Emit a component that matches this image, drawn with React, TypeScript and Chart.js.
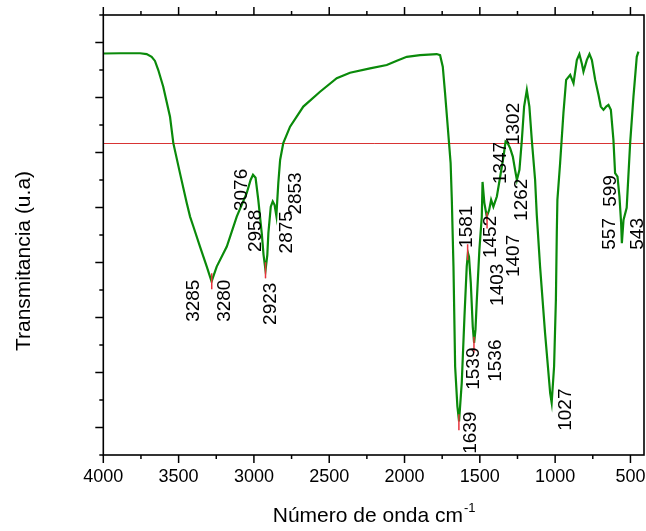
import { useEffect, useRef } from "react";
import { Chart, registerables } from "chart.js";

Chart.register(...registerables);

// Spectrum (wavenumber cm-1, transmittance in arbitrary units)
const wavenumbers = [
  4000, 3889, 3756, 3712, 3679, 3657, 3635, 3602, 3557, 3535, 3491, 3446, 3424, 3402, 3358, 3313, 3281,
  3247, 3180, 3114, 3048, 3022, 3006, 2989, 2971, 2948, 2936, 2923, 2911, 2904, 2888, 2875, 2863, 2851,
  2838, 2826, 2805, 2760, 2672, 2561, 2450, 2362, 2229, 2118, 2051, 1985, 1897, 1786, 1764, 1746, 1731,
  1714, 1694, 1686, 1675, 1664, 1649, 1638, 1620, 1602, 1587, 1579, 1572, 1560, 1547, 1538, 1529, 1520,
  1503, 1487, 1482, 1470, 1454, 1438, 1425, 1410, 1387, 1365, 1343, 1329, 1315, 1299, 1281, 1266, 1254,
  1237, 1221, 1206, 1188, 1171, 1155, 1133, 1122, 1100, 1067, 1033, 1023, 1007, 995, 989, 985, 967, 945,
  927, 900, 878, 856, 839, 823, 812, 790, 772, 756, 734, 712, 697, 679, 661, 646, 630, 613, 602, 586,
  573, 562, 557, 546, 525, 502, 480, 458, 447,
];
const transmittance = [
  14.6, 14.61, 14.61, 14.58, 14.48, 14.33, 14.0, 13.39, 12.3, 11.34, 10.25, 9.16, 8.67, 8.31, 7.58, 6.85, 6.31,
  6.85, 7.58, 8.67, 9.52, 10.0, 10.19, 10.08, 9.28, 8.07, 7.28, 6.72, 7.28, 8.07, 9.03, 9.22, 9.1, 8.7,
  9.89, 10.73, 11.34, 11.94, 12.67, 13.21, 13.7, 13.9, 14.06, 14.18, 14.34, 14.48, 14.54, 14.58, 14.54, 14.12, 13.17,
  12.0, 10.62, 9.28, 6.85, 3.22, 1.77, 1.22, 2.63, 5.04, 6.85, 7.35, 7.21, 6.26, 4.67, 4.08, 4.55, 5.64,
  7.46, 8.67, 9.93, 9.17, 8.67, 8.91, 9.28, 9.03, 9.4, 10.12, 10.85, 11.4, 11.34, 11.16, 10.85, 10.37, 10.0,
  10.37, 11.46, 12.67, 13.27, 12.67, 11.46, 10.0, 8.73, 6.85, 4.44, 2.25, 1.9, 3.22, 5.64, 8.07, 9.28, 10.61, 12.43,
  13.64, 13.82, 13.52, 14.36, 14.58, 14.24, 13.94, 14.36, 14.58, 14.36, 13.64, 13.09, 12.67, 12.55, 12.67, 12.73, 12.55, 11.46, 10.25, 10.12,
  9.4, 8.44, 7.7, 8.55, 8.99, 11.34, 13.03, 14.48, 14.67,
];

// Horizontal reference level
const baselineLevel = 11.327;

// Axis ticks
const xTickValues = [4000, 3500, 3000, 2500, 2000, 1500, 1000, 500];
const xMinorTickValues = [3750, 3250, 2750, 2250, 1750, 1250, 750];
const yTickValues = [0, 1, 2, 3, 4, 5, 6, 7, 8, 9, 10, 11, 12, 13, 14, 15, 16];

// Peak markers
const markerWn = [3280, 2923, 1639, 1581, 1539, 1452];
const markerT = [6.32, 6.72, 1.19, 7.37, 4.01, 8.53];

// Peak labels: text, and where the label sits (data units)
const peakText = ["3285", "3280", "3076", "2958", "2923", "2875", "2853", "1581", "1452", "1403", "1407", "1347", "1302", "1262", "1539", "1536", "1639", "1027", "599", "557", "543"];
const peakLabelWn = [3408, 3202, 3089, 2993, 2893, 2790, 2727, 1595, 1435, 1385, 1282, 1369, 1282, 1226, 1545, 1399, 1568, 934, 635, 641, 456];
const peakLabelT = [5.61, 5.61, 9.64, 8.15, 5.5, 8.1, 9.51, 8.3, 7.93, 6.19, 7.24, 10.62, 12.04, 9.28, 3.14, 3.43, 0.81, 1.65, 9.6, 8.04, 8.04];

const FONT = "'Liberation Sans', Arial, Helvetica, sans-serif";

const decorPlugin = {
  id: "decor",
  afterDatasetsDraw(chart: any) {
    const { ctx, chartArea: a } = chart;
    const xs = chart.scales.x;
    const ys = chart.scales.y;
    ctx.save();
    ctx.strokeStyle = "#000";
    ctx.lineWidth = 1.6;
    ctx.strokeRect(a.left, a.top, a.right - a.left, a.bottom - a.top);
    ctx.lineWidth = 1.5;
    const seg = (x1: number, y1: number, x2: number, y2: number) => {
      ctx.beginPath();
      ctx.moveTo(x1, y1);
      ctx.lineTo(x2, y2);
      ctx.stroke();
    };
    xTickValues.forEach((v) => {
      const px = xs.getPixelForValue(v);
      seg(px, a.bottom, px, a.bottom + 8);
      seg(px, a.top, px, a.top - 8);
    });
    xMinorTickValues.forEach((v) => {
      const px = xs.getPixelForValue(v);
      seg(px, a.bottom, px, a.bottom + 4);
      seg(px, a.top, px, a.top - 4);
    });
    yTickValues.forEach((v) => {
      const py = ys.getPixelForValue(v);
      const len = v % 2 === 1 ? 8 : 4;
      seg(a.left - len, py, a.left, py);
    });

    // peak labels
    ctx.fillStyle = "#000";
    ctx.font = `19px ${FONT}`;
    ctx.textAlign = "center";
    ctx.textBaseline = "middle";
    peakText.forEach((t, i) => {
      const px = xs.getPixelForValue(peakLabelWn[i]);
      const py = ys.getPixelForValue(peakLabelT[i]);
      ctx.save();
      ctx.translate(px, py);
      ctx.rotate(-Math.PI / 2);
      ctx.fillText(t, 0, 1);
      ctx.restore();
    });

    // y title
    ctx.save();
    ctx.font = `21px ${FONT}`;
    ctx.translate(24, (a.top + a.bottom) / 2 + 26);
    ctx.rotate(-Math.PI / 2);
    ctx.fillText("Transmitancia (u.a)", 0, 0);
    ctx.restore();

    // x title with superscript
    const main = "Número de onda cm";
    const sup = "-1";
    ctx.textBaseline = "alphabetic";
    ctx.textAlign = "left";
    ctx.font = `21px ${FONT}`;
    const wMain = ctx.measureText(main).width;
    ctx.font = `13px ${FONT}`;
    const wSup = ctx.measureText(sup).width;
    const cx = (a.left + a.right) / 2;
    const startX = cx - (wMain + wSup) / 2;
    ctx.font = `21px ${FONT}`;
    ctx.fillText(main, startX, 522);
    ctx.font = `13px ${FONT}`;
    ctx.fillText(sup, startX + wMain + 1, 512);
    ctx.restore();
  },
};

export default function App() {
  const ref = useRef<HTMLCanvasElement | null>(null);
  useEffect(() => {
    if (!ref.current) return;
    const spectrum = wavenumbers.map((w, i) => ({ x: w, y: transmittance[i] }));
    const markers = markerWn.map((w, i) => ({ x: w, y: markerT[i] }));
    const baseline = [
      { x: 4000, y: baselineLevel },
      { x: 400, y: baselineLevel },
    ];
    const chart = new Chart(ref.current, {
      type: "scatter",
      data: {
        datasets: [
          {
            label: "peaks",
            data: markers,
            showLine: false,
            pointStyle: "line",
            rotation: 90,
            radius: 8,
            borderColor: "#e8323c",
            borderWidth: 1.5,
          },
          {
            label: "spectrum",
            data: spectrum,
            showLine: true,
            borderColor: "#0a8a0a",
            borderWidth: 2.2,
            pointRadius: 0,
            tension: 0,
            fill: false,
          },
          {
            label: "baseline",
            data: baseline,
            showLine: true,
            borderColor: "#d83434",
            borderWidth: 1,
            pointRadius: 0,
          },
        ],
      } as any,
      options: {
        responsive: false,
        animation: false,
        devicePixelRatio: 1,
        layout: { autoPadding: false, padding: { left: 0, top: 15, right: 2, bottom: 0 } },
        plugins: { legend: { display: false }, tooltip: { enabled: false }, title: { display: false } },
        scales: {
          x: {
            type: "linear",
            reverse: true,
            min: 410,
            max: 4000,
            position: "bottom",
            grid: { display: false },
            border: { display: false },
            afterBuildTicks: (s: any) => {
              s.ticks = xTickValues.map((v) => ({ value: v }));
            },
            afterFit: (s: any) => {
              s.height = 76;
              s.paddingLeft = 0;
              s.paddingRight = 0;
            },
            ticks: {
              color: "#000",
              font: { family: FONT, size: 18 },
              padding: 3,
              maxRotation: 0,
              autoSkip: false,
              callback: (v: any) => String(v),
            },
          },
          y: {
            type: "linear",
            min: 0,
            max: 16,
            grid: { display: false },
            border: { display: false },
            ticks: { display: false },
            afterFit: (s: any) => {
              s.width = 103.3;
              s.paddingTop = 0;
              s.paddingBottom = 0;
            },
          },
        },
      } as any,
      plugins: [decorPlugin],
    });
    return () => chart.destroy();
  }, []);
  return (
    <div style={{ position: "fixed", left: 0, top: 0, width: 646, height: 531, background: "#fff" }}>
      <canvas ref={ref} width={646} height={531} />
    </div>
  );
}
